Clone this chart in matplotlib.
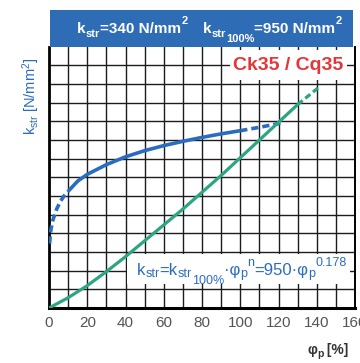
import matplotlib
matplotlib.use("Agg")
import matplotlib.pyplot as plt
from matplotlib.patches import Rectangle

plt.rcParams.update({"font.family": ["Liberation Sans", "DejaVu Sans"],
                     "mathtext.fontset": "custom",
                     "mathtext.rm": "Liberation Sans",
                     "mathtext.it": "Liberation Sans:italic",
                     "mathtext.bf": "Liberation Sans:bold"})

BLUE, GREEN, RED, HEAD, TICK = "#2a6cc0", "#2ba584", "#e5373a", "#2e6db6", "#555555"

# flow curve k_str(phi_p) (phi_p in %, k_str in N/mm^2)
phi_extra_lo = [0.3, 1, 2, 4, 6, 8, 10]
k_extra_lo = [345, 420, 470, 530, 572, 602, 625]
phi_meas = [10, 15, 20, 30, 40, 50, 60, 70, 80, 90, 100]
k_meas = [625, 680, 716, 768, 810, 843, 870, 893, 914, 933, 950]
phi_extra_hi = [100, 110, 121]
k_extra_hi = [950, 968, 990]

# green line
phi_w = [0, 10, 20, 30, 40, 50, 60, 70, 80, 90, 100, 110, 120, 130]
w = [0, 55, 120, 195, 275, 360, 445, 530, 620, 710, 805, 900, 995, 1090]
phi_w_hi = [130, 142]
w_hi = [1090, 1190]

xticks = [0, 20, 40, 60, 80, 100, 120, 140, 160]

# (text, fontsize, baseline shift in pt)
head1 = [("k", 11, 0), ("str", 8, -2.2), ("=340 N/mm", 11, 0), ("2", 8, 7)]
head2 = [("k", 11, 0), ("str", 8, -2.2), ("100%", 8, -6), ("=950 N/mm", 11, 0), ("2", 8, 7)]
formula = [("k", 12, 0), ("str", 9, -1.5), ("=k", 12, 0), ("str", 9, -1.5), ("100%", 9, -6.5),
           ("·φ", 12, 0), ("p", 9, -1.5), ("n", 9, 6.5), ("=950·φ", 12, 0), ("p", 9, -1.5),
           ("0.178", 9, 6.5)]
xlab = [("φ", 10, 0), ("p", 7.5, -1.5), (" [%]", 10, 0)]


def rich(ax, x, y, parts, coords, **kw):
    s, size, prev = parts[0]
    t = ax.annotate(s, xy=(x, y), xycoords=coords, fontsize=size, va="baseline",
                    ha="left", annotation_clip=False, **kw)
    for s, size, dy in parts[1:]:
        t = ax.annotate(s, xy=(1, 0), xycoords=t, xytext=(0, dy - prev), textcoords="offset points",
                        fontsize=size, va="bottom", ha="left", annotation_clip=False, **kw)
        prev = dy
    return t


fig = plt.figure(figsize=(3.6, 3.63), dpi=100)
ax = fig.add_axes([49 / 360, 1 - 308 / 363, 306 / 360, (308 - 46.7) / 363])

for x in range(10, 160, 10):
    ax.axvline(x, color="#1c1c1c", lw=1.0, zorder=1)
for y in range(100, 1400, 100):
    ax.axhline(y, color="#1c1c1c", lw=1.0, zorder=1)

ax.plot(phi_extra_lo, k_extra_lo, color=BLUE, lw=2.6, ls=(0, (2, 1.1)), zorder=3)
ax.plot(phi_meas, k_meas, color=BLUE, lw=2.6, solid_capstyle="butt", zorder=3)
ax.plot(phi_extra_hi, k_extra_hi, color=BLUE, lw=2.6, ls=(0, (2, 1.1)), zorder=3)
ax.plot(phi_w, w, color=GREEN, lw=2.3, solid_capstyle="butt", zorder=3)
ax.plot(phi_w_hi, w_hi, color=GREEN, lw=2.3, ls=(0, (2, 1.1)), zorder=3)

ax.set_xlim(0, 160)
ax.set_ylim(0, 1400)
ax.set_xticks(xticks)
ax.set_yticks([])
ax.tick_params(axis="x", length=0, pad=6, labelsize=11, labelcolor=TICK)
ax.spines["top"].set_visible(False)
ax.spines["bottom"].set_linewidth(2.2)
ax.spines["left"].set_linewidth(2.0)
ax.spines["right"].set_linewidth(1.4)

# white patches behind the two labels inside the grid
ax.add_patch(Rectangle((94.5, 1222), 61.5, 160, facecolor="white", edgecolor="none", zorder=2))
ax.add_patch(Rectangle((41, 128), 116.5, 161, facecolor="white", edgecolor="none", zorder=2))
ax.text(96, 1300, "Ck35 / Cq35", color=RED, fontsize=14, fontweight="bold",
        ha="left", va="center", zorder=4)
rich(ax, 46, 177, formula, "data", color=BLUE, zorder=4)

# header band
ax.add_patch(Rectangle((50 / 360, 1 - 46.5 / 363), 303 / 360, 36.5 / 363, transform=fig.transFigure,
                       facecolor=HEAD, edgecolor="none", clip_on=False, zorder=5))
rich(ax, 77 / 360, 1 - 33 / 363, head1, "figure fraction", color="white", fontweight="bold", zorder=6)
rich(ax, 203 / 360, 1 - 33 / 363, head2, "figure fraction", color="white", fontweight="bold", zorder=6)

fig.text(31 / 360, 1 - 96 / 363, r"$\mathrm{k_{str}}$ [N/mm$^\mathrm{2}$]", color=BLUE,
         fontsize=10.5, rotation=90, ha="center", va="center")
rich(ax, 307 / 360, 1 - 354 / 363, xlab, "figure fraction", color="#333333", fontweight="bold")

fig.savefig("out.png", dpi=100)
